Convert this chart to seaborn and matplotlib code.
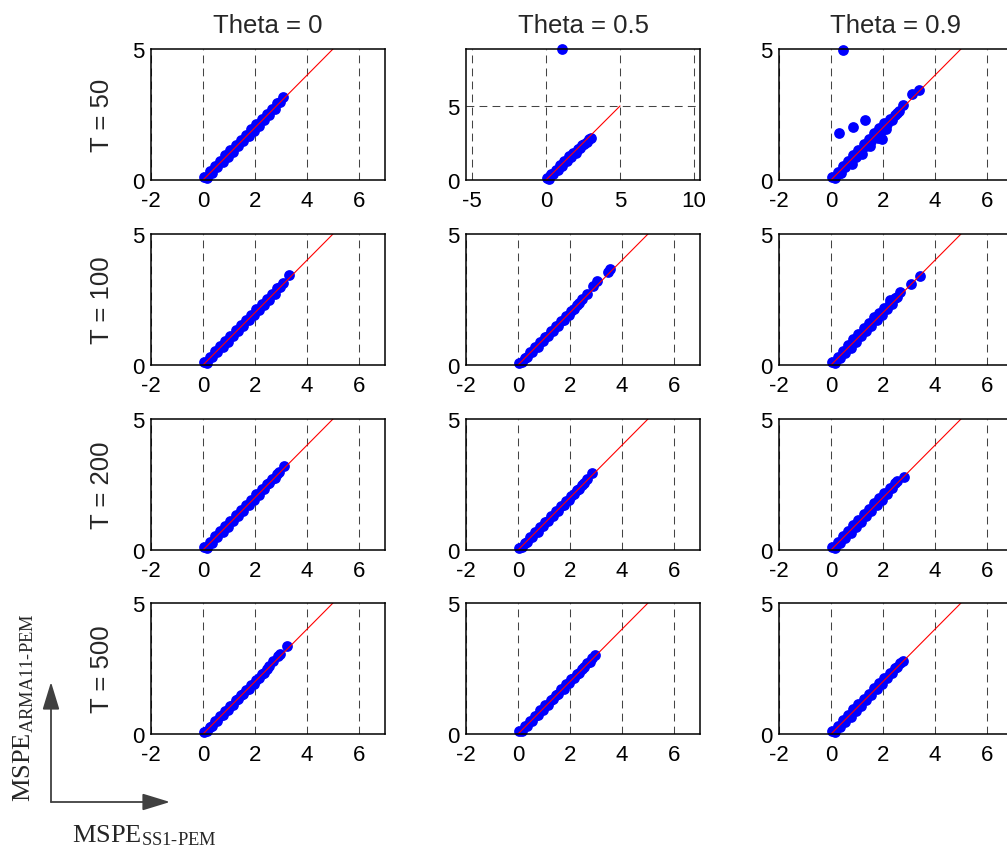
"""MSPE comparison grid: ARMA(1,1)-PEM vs SS1-PEM for several T and theta."""
import matplotlib
matplotlib.use("Agg")
import matplotlib.pyplot as plt
from matplotlib.patches import FancyArrowPatch
import seaborn as sns

W, H = 1007, 854

thetas = ["0", "0.5", "0.9"]
sample_sizes = ["50", "100", "200", "500"]
ref_line = [0, 5]

# --- scatter values (x = SS1-PEM, y = ARMA11-PEM) ---
x_t50_th0 = [0.05, 0.15, 0.25, 0.35, 0.45, 0.55, 0.65, 0.75, 0.85, 0.95,
             1.05, 1.15, 1.25, 1.35, 1.45, 1.55, 1.65, 1.75, 1.85, 1.95,
             2.05, 2.15, 2.25, 2.35, 2.45, 2.55, 2.65, 2.75, 2.85, 2.95, 3.08]
y_t50_th0 = [0.12, 0.08, 0.33, 0.28, 0.53, 0.48, 0.73, 0.69, 0.94, 0.88,
             1.13, 1.08, 1.33, 1.28, 1.54, 1.48, 1.73, 1.69, 1.93, 1.88,
             2.14, 2.08, 2.33, 2.3, 2.52, 2.5, 2.72, 2.72, 2.92, 2.98, 3.18]

x_t100_th0 = [0.05, 0.15, 0.25, 0.35, 0.45, 0.55, 0.65, 0.75, 0.85, 0.95,
              1.05, 1.15, 1.25, 1.35, 1.45, 1.55, 1.65, 1.75, 1.85, 1.95,
              2.05, 2.15, 2.25, 2.35, 2.45, 2.55, 2.65, 2.75, 2.85, 2.95, 3.08, 3.32]
y_t100_th0 = [0.1, 0.09, 0.3, 0.29, 0.52, 0.48, 0.72, 0.68, 0.92, 0.89,
              1.12, 1.1, 1.33, 1.28, 1.52, 1.5, 1.72, 1.7, 1.92, 1.9,
              2.12, 2.1, 2.32, 2.3, 2.53, 2.5, 2.72, 2.72, 2.92, 2.98, 3.12, 3.42]

x_t200_th0 = [0.05, 0.15, 0.25, 0.35, 0.45, 0.55, 0.65, 0.75, 0.85, 0.95,
              1.05, 1.15, 1.25, 1.35, 1.45, 1.55, 1.65, 1.75, 1.85, 1.95,
              2.05, 2.15, 2.25, 2.35, 2.45, 2.55, 2.65, 2.75, 2.85, 2.92, 3.12]
y_t200_th0 = [0.1, 0.08, 0.31, 0.28, 0.52, 0.48, 0.72, 0.69, 0.92, 0.88,
              1.12, 1.09, 1.32, 1.28, 1.52, 1.49, 1.72, 1.7, 1.92, 1.9,
              2.12, 2.1, 2.32, 2.32, 2.52, 2.55, 2.72, 2.76, 2.9, 2.98, 3.2]

x_t500_th0 = [0.05, 0.15, 0.25, 0.35, 0.45, 0.55, 0.65, 0.75, 0.85, 0.95,
              1.05, 1.15, 1.25, 1.35, 1.45, 1.55, 1.65, 1.75, 1.85, 1.95,
              2.05, 2.15, 2.25, 2.35, 2.45, 2.55, 2.68, 2.9, 2.96, 3.22]
y_t500_th0 = [0.08, 0.1, 0.28, 0.3, 0.48, 0.5, 0.68, 0.72, 0.88, 0.92,
              1.08, 1.12, 1.28, 1.32, 1.48, 1.52, 1.68, 1.72, 1.88, 1.92,
              2.08, 2.12, 2.28, 2.34, 2.48, 2.58, 2.8, 2.98, 3.04, 3.35]

x_t50_th05 = [0.05, 0.2, 0.35, 0.5, 0.65, 0.8, 0.95, 1.1, 1.25, 1.4, 1.55,
              1.7, 1.85, 2.0, 2.15, 2.3, 2.45, 2.6, 2.75, 2.9, 3.05, 1.1]
y_t50_th05 = [0.12, 0.1, 0.4, 0.38, 0.7, 0.65, 1.0, 0.95, 1.3, 1.25, 1.6,
              1.55, 1.85, 1.85, 2.1, 2.15, 2.35, 2.45, 2.6, 2.75, 2.85, 8.85]

x_t100_th05 = [0.05, 0.15, 0.25, 0.35, 0.45, 0.55, 0.65, 0.75, 0.85, 0.95,
               1.05, 1.15, 1.25, 1.35, 1.45, 1.55, 1.65, 1.75, 1.85, 1.95,
               2.05, 2.15, 2.25, 2.35, 2.45, 2.65, 2.9, 3.05, 3.45, 3.52]
y_t100_th05 = [0.08, 0.1, 0.28, 0.3, 0.48, 0.5, 0.68, 0.7, 0.88, 0.9,
               1.08, 1.1, 1.28, 1.3, 1.48, 1.5, 1.68, 1.72, 1.88, 1.92,
               2.08, 2.12, 2.28, 2.35, 2.52, 2.72, 3.0, 3.22, 3.55, 3.65]

x_t200_th05 = [0.05, 0.15, 0.25, 0.35, 0.45, 0.55, 0.65, 0.75, 0.85, 0.95,
               1.05, 1.15, 1.25, 1.35, 1.45, 1.55, 1.65, 1.75, 1.85, 1.95,
               2.05, 2.15, 2.25, 2.35, 2.45, 2.55, 2.65, 2.85]
y_t200_th05 = [0.08, 0.1, 0.28, 0.3, 0.48, 0.5, 0.68, 0.7, 0.88, 0.9,
               1.08, 1.1, 1.28, 1.3, 1.48, 1.5, 1.68, 1.7, 1.88, 1.92,
               2.08, 2.12, 2.28, 2.32, 2.48, 2.55, 2.7, 2.95]

x_t500_th05 = [0.05, 0.15, 0.25, 0.35, 0.45, 0.55, 0.65, 0.75, 0.85, 0.95,
               1.05, 1.15, 1.25, 1.35, 1.45, 1.55, 1.65, 1.75, 1.85, 1.95,
               2.05, 2.15, 2.25, 2.35, 2.45, 2.55, 2.65, 2.75, 2.85, 2.95]
y_t500_th05 = [0.1, 0.1, 0.3, 0.3, 0.5, 0.5, 0.7, 0.72, 0.9, 0.92,
               1.1, 1.1, 1.3, 1.32, 1.5, 1.52, 1.7, 1.72, 1.9, 1.94,
               2.1, 2.12, 2.3, 2.34, 2.5, 2.54, 2.7, 2.75, 2.9, 3.02]

x_t50_th09 = [0.05, 0.15, 0.25, 0.35, 0.45, 0.55, 0.65, 0.75, 0.85, 0.95,
              1.05, 1.15, 1.25, 1.35, 1.45, 1.55, 1.65, 1.75, 1.85, 1.95,
              2.05, 2.15, 2.25, 2.35, 2.45, 2.55, 2.62, 2.75, 3.1, 3.38,
              0.4, 0.8, 1.2, 1.5, 1.8, 2.1,
              0.3, 0.85, 1.3, 1.95, 0.47]
y_t50_th09 = [0.12, 0.08, 0.32, 0.28, 0.54, 0.48, 0.74, 0.68, 0.96, 0.88,
              1.16, 1.08, 1.36, 1.3, 1.56, 1.5, 1.78, 1.7, 1.98, 1.9,
              2.16, 2.12, 2.32, 2.3, 2.5, 2.55, 2.62, 2.88, 3.28, 3.42,
              0.25, 0.62, 1.0, 1.3, 1.62, 1.95,
              1.8, 2.04, 2.3, 1.55, 4.96]

x_t100_th09 = [0.05, 0.15, 0.25, 0.35, 0.45, 0.55, 0.65, 0.75, 0.85, 0.95,
               1.05, 1.15, 1.25, 1.35, 1.45, 1.55, 1.65, 1.75, 1.85, 1.95,
               2.05, 2.15, 2.25, 2.35, 2.45, 2.55, 2.65, 2.25, 3.08, 3.42]
y_t100_th09 = [0.1, 0.08, 0.32, 0.26, 0.54, 0.46, 0.76, 0.66, 0.98, 0.88,
               1.2, 1.1, 1.42, 1.3, 1.62, 1.5, 1.82, 1.72, 2.0, 1.92,
               2.18, 2.12, 2.36, 2.32, 2.55, 2.58, 2.8, 2.5, 3.1, 3.4]

x_t200_th09 = [0.05, 0.15, 0.25, 0.35, 0.45, 0.55, 0.65, 0.75, 0.85, 0.95,
               1.05, 1.15, 1.25, 1.35, 1.45, 1.55, 1.65, 1.75, 1.85, 1.95,
               2.05, 2.15, 2.25, 2.35, 2.45, 2.55, 2.8]
y_t200_th09 = [0.12, 0.06, 0.32, 0.26, 0.54, 0.46, 0.74, 0.66, 0.96, 0.88,
               1.16, 1.08, 1.38, 1.3, 1.58, 1.5, 1.78, 1.72, 1.98, 1.92,
               2.16, 2.14, 2.36, 2.36, 2.55, 2.65, 2.8]

x_t500_th09 = [0.05, 0.15, 0.25, 0.35, 0.45, 0.55, 0.65, 0.75, 0.85, 0.95,
               1.05, 1.15, 1.25, 1.35, 1.45, 1.55, 1.65, 1.75, 1.85, 1.95,
               2.05, 2.15, 2.25, 2.35, 2.45, 2.55, 2.65, 2.75]
y_t500_th09 = [0.1, 0.06, 0.3, 0.26, 0.52, 0.46, 0.72, 0.66, 0.94, 0.88,
               1.14, 1.08, 1.34, 1.3, 1.54, 1.5, 1.74, 1.72, 1.94, 1.92,
               2.14, 2.14, 2.34, 2.34, 2.52, 2.56, 2.72, 2.78]

grid_data = [
    [(x_t50_th0, y_t50_th0), (x_t50_th05, y_t50_th05), (x_t50_th09, y_t50_th09)],
    [(x_t100_th0, y_t100_th0), (x_t100_th05, y_t100_th05), (x_t100_th09, y_t100_th09)],
    [(x_t200_th0, y_t200_th0), (x_t200_th05, y_t200_th05), (x_t200_th09, y_t200_th09)],
    [(x_t500_th0, y_t500_th0), (x_t500_th05, y_t500_th05), (x_t500_th09, y_t500_th09)],
]

# layout in pixels (MATLAB-style subplot boxes; last column runs off the page)
col_left = [151, 466, 779]
row_top = [50, 235, 420, 604]
box_w, box_h = 234, 131

sns.set_style("white")
plt.rcParams["font.family"] = ["Liberation Sans", "DejaVu Sans"]
plt.rcParams["axes.unicode_minus"] = False
plt.rcParams["mathtext.fontset"] = "custom"
plt.rcParams["mathtext.rm"] = "Liberation Serif"
plt.rcParams["mathtext.it"] = "Liberation Serif:italic"
plt.rcParams["mathtext.bf"] = "Liberation Serif:bold"

fig = plt.figure(figsize=(W / 100, H / 100), dpi=100)
fig.patch.set_facecolor("white")

for r, T in enumerate(sample_sizes):
    for c, th in enumerate(thetas):
        ax = fig.add_axes([col_left[c] / W, 1 - (row_top[r] + box_h) / H,
                           box_w / W, box_h / H])
        xs, ys = grid_data[r][c]
        sns.scatterplot(x=xs, y=ys, ax=ax, color="blue", s=60, linewidth=0,
                        clip_on=False, zorder=2, legend=False)
        sns.lineplot(x=ref_line, y=ref_line, ax=ax, color="red", lw=0.8,
                     zorder=3, legend=False)

        wide = (r == 0 and c == 1)
        if wide:
            ax.set_xlim(-5.4, 10.4)
            ax.set_ylim(0, 8.85)
            ax.set_xticks([-5, 0, 5, 10])
        else:
            ax.set_xlim(-2, 7)
            ax.set_ylim(0, 5)
            ax.set_xticks([-2, 0, 2, 4, 6])
        ax.set_yticks([0, 5])

        dash = dict(color="#444444", lw=0.75, linestyle=(0, (7.5, 5)))
        ax.grid(False)
        ax.xaxis.grid(True, **dash)
        if wide:
            ax.yaxis.grid(True, **dash)
        ax.set_axisbelow(True)
        for sp in ax.spines.values():
            sp.set_visible(True)
            sp.set_color("black")
            sp.set_linewidth(1.1)
            sp.set_zorder(4)
        ax.tick_params(axis="x", length=0, pad=7, labelsize=16, colors="black")
        ax.tick_params(axis="y", length=0, pad=4.5, labelsize=16, colors="black")

        if r == 0:
            ax.set_title(f"Theta = {th}", fontsize=18.5, pad=12)
        if c == 0:
            ax.set_ylabel(f"T = {T}", fontsize=18.5, labelpad=13)

# axis-direction legend in the lower-left corner
arrow_kw = dict(arrowstyle="-|>,head_length=0.85,head_width=0.26", color="#404040",
                lw=1.3, mutation_scale=20, shrinkA=0, shrinkB=0)
fig.add_artist(FancyArrowPatch((51 / W, 51 / H), (51 / W, 171 / H),
                               transform=fig.transFigure, **arrow_kw))
fig.add_artist(FancyArrowPatch((51 / W, 51 / H), (170 / W, 51 / H),
                               transform=fig.transFigure, **arrow_kw))

fig.text(24 / W, 52 / H, r"$\mathrm{MSPE}_{\mathrm{ARMA11\text{-}PEM}}$",
         rotation=90, ha="center", va="bottom", fontsize=19)
fig.text(72 / W, 1 - 836 / H, r"$\mathrm{MSPE}_{\mathrm{SS1\text{-}PEM}}$",
         ha="left", va="center", fontsize=19)

fig.savefig("out.png", dpi=100, facecolor="white")
